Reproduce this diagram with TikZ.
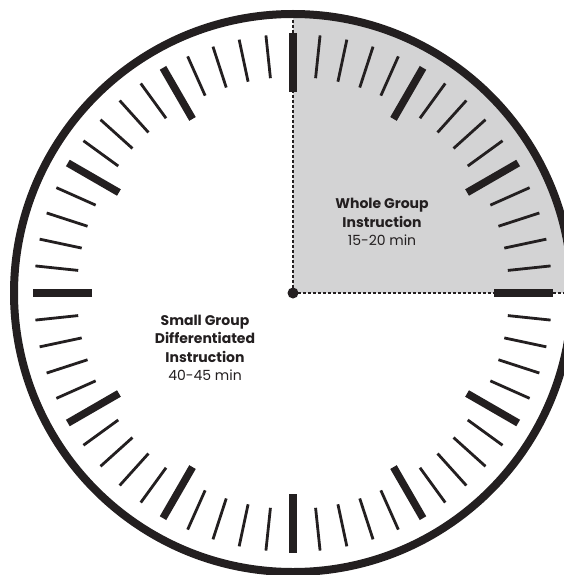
\documentclass[tikz,border=0pt]{standalone}
\usepackage{fontspec}
\setmainfont{Poppins}
\usetikzlibrary{calc}
\definecolor{ink}{RGB}{35,31,32}
\definecolor{quadgray}{RGB}{211,211,212}
\tikzset{
  major/.style={line width=7.5pt, ink, line cap=butt},
  minor/.style={line width=2.8pt, ink, line cap=butt},
  rim/.style={line width=8pt, ink},
  guide/.style={line width=1.2pt, ink, dash pattern=on 3pt off 2pt},
  label/.style={align=center, font=\fontsize{14pt}{18.5pt}\selectfont, text=ink, inner sep=0pt}
}
\begin{document}
\begin{tikzpicture}[x=1pt,y=-1pt]
\useasboundingbox (0,0) rectangle (564,575);
\clip (0,0) rectangle (564,575);
\coordinate (c) at (293,293);
\begin{scope}
  \clip (c) circle (279);
  \fill[quadgray] (c) rectangle (620,0);
\end{scope}
\coordinate (top) at ($(c)+(0,-279)$);
\coordinate (right) at ($(c)+(279,0)$);
\draw[guide] (c) -- (top);
\draw[guide] (c) -- (right);
\foreach \i in {0,...,59}{
  \pgfmathsetmacro{\a}{90-6*\i}
  \pgfmathtruncatemacro{\m}{mod(\i,5)}
  \ifnum\m=0
    \draw[major] ($(c)+(\a:201 and -201)$) -- ($(c)+(\a:260 and -260)$);
  \else
    \draw[minor] ($(c)+(\a:216 and -216)$) -- ($(c)+(\a:259 and -259)$);
  \fi
}
\draw[rim] (c) circle (279);
\fill[ink] (c) circle (5.5);
\node[label] (whole) at (382,222) {\textbf{Whole Group}\\\textbf{Instruction}\\15-20 min};
\node[label] (small) at (205,348) {\textbf{Small Group}\\\textbf{Differentiated}\\\textbf{Instruction}\\40-45 min};
\end{tikzpicture}
\end{document}
